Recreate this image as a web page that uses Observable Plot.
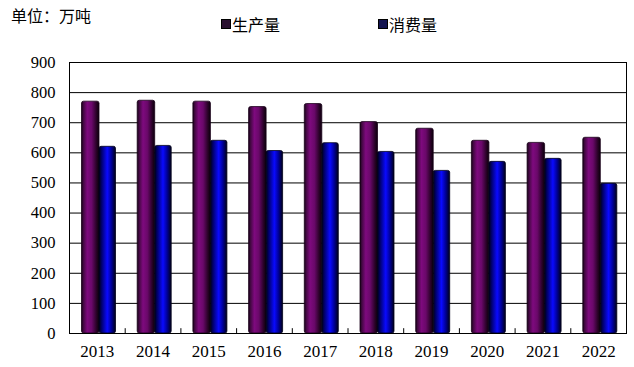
<!DOCTYPE html>
<html>
<head>
<meta charset="utf-8">
<script src="https://cdn.jsdelivr.net/npm/d3@7"></script>
<script src="https://cdn.jsdelivr.net/npm/@observablehq/plot@0.6"></script>
<style>
  html, body { margin: 0; padding: 0; background: #fff; }
  #wrap { position: relative; width: 634px; height: 367px; overflow: hidden; }
  #header { position: relative; width: 634px; height: 44px; font-family: "Noto Sans CJK SC", sans-serif; color: #000; }
  .title { position: absolute; left: 11px; top: 4px; font-size: 16px; line-height: 22px; }
  .leg { position: absolute; top: 13px; font-size: 16px; line-height: 22px; display: flex; align-items: center; }
  .sw { display: inline-block; width: 8px; height: 8px; border: 1px solid #000; margin-right: 1px; }
</style>
</head>
<body>
<div id="wrap">
  <div id="header">
    <div class="title">单位：万吨</div>
    <div class="leg" style="left:221px"><span class="sw" style="background:#2a1030"></span><span>生产量</span></div>
    <div class="leg" style="left:378px"><span class="sw" style="background:#141450"></span><span>消费量</span></div>
  </div>
  <div id="chart"></div>
</div>
<script>
const years = ["2013","2014","2015","2016","2017","2018","2019","2020","2021","2022"];
const production = [770, 773, 770, 752, 762, 702, 680, 640, 633, 650];
const consumption = [620, 623, 640, 606, 632, 603, 540, 570, 580, 497];
const yTicks = [0, 100, 200, 300, 400, 500, 600, 700, 800, 900];

const data = years.map((y, i) => ({year: y, prod: production[i], cons: consumption[i]}));

const W = 634, H = 323, mL = 69, mR = 8, mT = 18, mB = 34;
const bw = (W - mL - mR) / years.length;

const chart = Plot.plot({
  width: W,
  height: H,
  marginLeft: mL,
  marginRight: mR,
  marginTop: mT,
  marginBottom: mB,
  style: {color: "#000", background: "#fff"},
  x: {type: "band", domain: years, paddingInner: 0, paddingOuter: 0, round: false},
  y: {domain: [0, 900]},
  marks: [
    Plot.ruleY(yTicks, {stroke: "#000", strokeWidth: 1}),
    Plot.barY(data, {x: "year", y: "prod", insetLeft: 12.5, insetRight: bw - 30, fill: "url(#gProd)", stroke: "#1a001a", strokeWidth: 0.8, rx: 2}),
    Plot.barY(data, {x: "year", y: "cons", insetLeft: 30, insetRight: bw - 46.5, fill: "url(#gCons)", stroke: "#00001a", strokeWidth: 0.8, rx: 2}),
    Plot.ruleX(years.slice(1), {x: d => d, dx: -bw / 2, y1: 0, y2: 16, stroke: "#000"}),
    Plot.frame({stroke: "#000", strokeWidth: 1}),
    Plot.axisY({ticks: yTicks, tickSize: 0, tickPadding: 14, fontSize: 16.5, tickFormat: d => String(d)}),
    Plot.axisX({tickSize: 0, tickPadding: 11, fontSize: 17, label: null})
  ]
});

const svg = d3.select(chart);
svg.style("font-family", "'Liberation Serif', 'DejaVu Serif', serif");
svg.selectAll("g[aria-label$='axis'], g[aria-label$='tick label']").attr("font-family", null).style("font-family", "'Liberation Serif', 'DejaVu Serif', serif");
svg.selectAll("text").style("font-family", "'Liberation Serif', 'DejaVu Serif', serif");
const defs = svg.insert("defs", ":first-child");
function grad(id, stops) {
  const g = defs.append("linearGradient").attr("id", id).attr("x1", "0%").attr("x2", "100%").attr("y1", "0%").attr("y2", "0%");
  stops.forEach(([o, c]) => g.append("stop").attr("offset", o).attr("stop-color", c));
}
grad("gProd", [["0%", "#100010"], ["10%", "#40083f"], ["33%", "#7e0a7e"], ["58%", "#6a086a"], ["85%", "#2a0228"], ["100%", "#0a000a"]]);
grad("gCons", [["0%", "#000018"], ["15%", "#000068"], ["50%", "#0a0aff"], ["75%", "#000098"], ["100%", "#000018"]]);

document.getElementById("chart").appendChild(chart);
</script>
</body>
</html>
